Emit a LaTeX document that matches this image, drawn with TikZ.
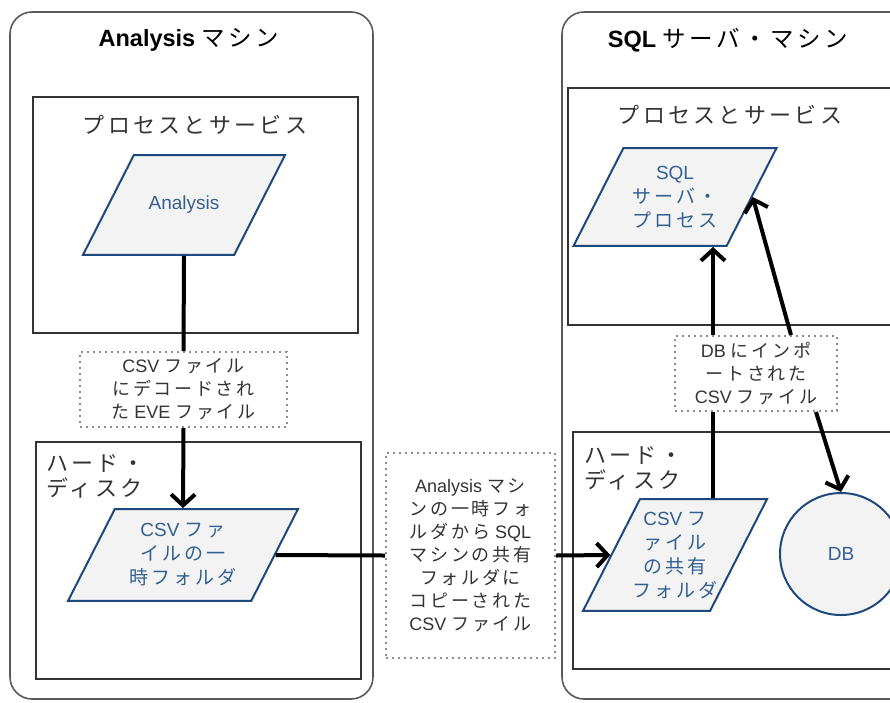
\documentclass[tikz,border=0pt]{standalone}
\usepackage{fontspec}
\setmainfont{Liberation Sans}
\newfontfamily\jp[LetterSpace=15]{Noto Sans CJK JP}
\usetikzlibrary{shapes.geometric,arrows.meta,positioning}
\definecolor{procline}{RGB}{31,73,125}
\definecolor{procfill}{RGB}{243,243,243}
\definecolor{proctext}{RGB}{52,96,145}
\definecolor{labeltext}{RGB}{51,51,51}
\tikzset{
	machine/.style={draw=black!65,line width=1.6pt,rounded corners=22pt},
	area/.style={draw=black!80,line width=1.6pt},
	areatitle/.style={text=labeltext,font=\fontsize{22}{25}\selectfont,align=left},
	proc/.style={trapezium,trapezium left angle=63,trapezium right angle=117,
		trapezium stretches body,draw=procline,line width=2pt,fill=procfill,
		text=proctext,font=\fontsize{19}{24}\selectfont,align=center,inner xsep=0pt},
	datalabel/.style={draw=black!45,dash pattern=on 2pt off 4pt,line width=2pt,
		fill=white,text=labeltext,font=\fontsize{18}{23}\selectfont,align=center,inner sep=0pt},
	conn/.style={line width=4pt},
	arr/.style={conn,-{Straight Barb[length=11pt,width=24pt]}}
}
\begin{document}
\begin{tikzpicture}[x=1pt,y=-1pt]
	\clip (0,0) rectangle (890,702);
		% machines
			\draw[machine] (10,12) rectangle (373,699);
			\draw[machine] (562,12) rectangle (915,699);
			\node[font=\fontsize{23.5}{26}\selectfont\bfseries] (t-ana) at (189,40) {Analysis {\jp\mdseries マシン}};
			\node[font=\fontsize{23.5}{26}\selectfont\bfseries] (t-sql) at (728,40) {SQL {\jp\mdseries サーバ・マシン}};
		% process areas
			\draw[area] (33,97) rectangle (358,333);
			\draw[area] (568,88) rectangle (915,325);
			\node[areatitle] (p-ana) at (195,125) {\jp プロセスとサービス};
			\node[areatitle] (p-sql) at (730,115) {\jp プロセスとサービス};
		% hard disk areas
			\draw[area] (36,442) rectangle (361,679);
			\draw[area] (573,432) rectangle (915,669);
			\node[areatitle,anchor=north west,inner sep=0pt] (h-ana) at (46,454) {\jp ハード・\\\jp ディスク};
			\node[areatitle,anchor=north west,inner sep=0pt] (h-sql) at (584,446) {\jp ハード・\\\jp ディスク};
		% processes and folders
			\node[proc,minimum width=202pt,inner ysep=41pt] (ana) at (184,205) {Analysis};
			\node[proc,minimum width=230pt,inner ysep=14.5pt] (csvt) at (183,555)
				{CSV {\jp ファ}\\\jp イルの一\\\jp 時フォルダ};
			\node[proc,minimum width=203pt,inner ysep=18pt] (sqlp) at (675,197)
				{SQL\\\jp サーバ・\\\jp プロセス};
			\node[proc,minimum width=184pt,inner xsep=-8pt,inner ysep=12.5pt] (csvs) at (675,555)
				{CSV {\jp フ}\\\jp ァイル\\\jp の共有\\\jp フォルダ};
			\node[circle,draw=procline,line width=2pt,fill=procfill,text=proctext,
				font=\fontsize{19}{24}\selectfont,minimum size=122pt] (db) at (841,554) {DB};
		% data labels
			\node[datalabel,minimum width=207pt,minimum height=75pt] (lblA) at (183.5,389.5)
				{CSV {\jp ファイル}\\\jp にデコードされ\\{\jp た} EVE {\jp ファイル}};
			\node[datalabel,minimum width=169pt,minimum height=205pt] (lblM) at (470.5,555.5)
				{Analysis {\jp マシ}\\\jp ンの一時フォ\\{\jp ルダから} SQL\\\jp マシンの共有\\\jp フォルダに\\\jp コピーされた\\CSV {\jp ファイル}};
			\node[datalabel,minimum width=162pt,minimum height=75pt] (lblB) at (756,373.5)
				{DB {\jp にインポ}\\\jp ートされた\\CSV {\jp ファイル}};
		% flow
			\coordinate (up) at (713,0);
			\draw[conn] (ana.south) -- (lblA.north);
			\draw[arr]  (lblA.south) -- (csvt.north);
			\draw[conn] (csvt.east) -- (lblM.west);
			\draw[arr]  (lblM.east) -- (csvs.west);
			\draw[conn] (csvs.north -| up) -- (lblB.south -| up);
			\draw[arr]  (lblB.north -| up) -- (sqlp.south -| up);
			\draw[arr]  ([xshift=-47pt]lblB.north east) -- (sqlp.east);
			\draw[arr]  ([xshift=-22pt]lblB.south east) -- (db.north);
\end{tikzpicture}
\end{document}
